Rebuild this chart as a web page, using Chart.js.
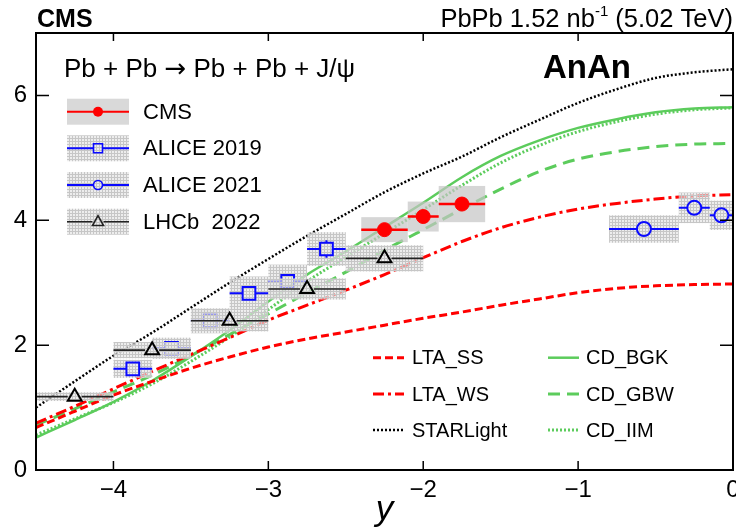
<!DOCTYPE html>
<html><head><meta charset="utf-8">
<script src="https://cdn.jsdelivr.net/npm/chart.js@4/dist/chart.umd.min.js"></script>
<style>html,body{margin:0;padding:0;background:#fff;}#wrap{width:736px;height:529px;}</style>
</head><body><div id="wrap"><canvas id="c" width="736" height="529" style="width:736px;height:529px"></canvas></div>
<script>
const FONT = '"Liberation Sans", Arial, Helvetica, sans-serif';

// ---- axis ticks ----
const xTicks = [-4, -3, -2, -1, 0];
const yTicks = [0, 2, 4, 6];

// ---- theory curves (sampled in rapidity y) ----
const curveX    = [-4.5,-4.25,-4,-3.75,-3.5,-3.25,-3,-2.75,-2.5,-2.25,-2,-1.75,-1.5,-1.25,-1,-0.75,-0.5,-0.25,0];
const ltaSS     = [0.68,0.94,1.20,1.42,1.63,1.81,1.97,2.10,2.21,2.32,2.43,2.53,2.64,2.74,2.84,2.91,2.95,2.97,2.98];
const ltaWS     = [0.75,1.02,1.30,1.58,1.85,2.12,2.40,2.64,2.88,3.13,3.40,3.66,3.88,4.05,4.18,4.27,4.34,4.39,4.41];
const starlight = [1.00,1.42,1.83,2.20,2.60,3.00,3.38,3.75,4.10,4.45,4.75,5.02,5.33,5.61,5.88,6.10,6.28,6.37,6.42];
const cdBGK     = [0.52,0.80,1.09,1.43,1.82,2.24,2.70,3.13,3.50,3.89,4.28,4.69,5.03,5.28,5.48,5.62,5.73,5.79,5.81];
const cdGBW     = [0.72,0.98,1.25,1.52,1.83,2.17,2.50,2.84,3.17,3.52,3.85,4.18,4.50,4.78,4.98,5.10,5.18,5.22,5.23];
const cdIIM     = [0.56,0.82,1.08,1.38,1.74,2.13,2.57,3.02,3.41,3.79,4.17,4.56,4.92,5.20,5.42,5.58,5.70,5.77,5.80];

// ---- measurements ----
const cmsX    = [-2.25, -2.0, -1.75];
const cmsXlo  = [-2.4, -2.1, -1.9];
const cmsXhi  = [-2.1, -1.9, -1.6];
const cmsY    = [3.85, 4.06, 4.26];
const cmsStat = [0.08, 0.08, 0.09];
const cmsSys  = [0.20, 0.24, 0.29];

const a19X    = [-3.875, -3.625, -3.375, -3.125, -2.875, -2.625];
const a19Xlo  = [-4.0, -3.75, -3.5, -3.25, -3.0, -2.75];
const a19Xhi  = [-3.75, -3.5, -3.25, -3.0, -2.75, -2.5];
const a19Y    = [1.62, 1.95, 2.39, 2.83, 3.02, 3.54];
const a19Stat = [0.07, 0.07, 0.08, 0.08, 0.09, 0.14];
const a19Sys  = [0.145, 0.17, 0.20, 0.27, 0.27, 0.27];

const a21X    = [-0.575, -0.25, -0.075];
const a21Xlo  = [-0.8, -0.35, -0.15];
const a21Xhi  = [-0.35, -0.15, 0.0];
const a21Y    = [3.86, 4.20, 4.08];
const a21Stat = [0.09, 0.09, 0.09];
const a21Sys  = [0.22, 0.245, 0.235];

const lhcbX    = [-4.25, -3.75, -3.25, -2.75, -2.25];
const lhcbXlo  = [-4.5, -4.0, -3.5, -3.0, -2.5];
const lhcbXhi  = [-4.0, -3.5, -3.0, -2.5, -2.0];
const lhcbY    = [1.175, 1.92, 2.39, 2.90, 3.39];
const lhcbStat = [0.05, 0.05, 0.06, 0.06, 0.07];
const lhcbSys  = [0.07, 0.13, 0.17, 0.17, 0.21];

const dataLabels  = ['CMS', 'ALICE 2019', 'ALICE 2021', 'LHCb  2022'];
const curveLabels = ['LTA_SS', 'LTA_WS', 'STARLight', 'CD_BGK', 'CD_GBW', 'CD_IIM'];

// ---- styles ----
const RED = '#ff0000', BLUE = '#0a0aff', GREEN = 'rgb(92,204,92)', BLACK = '#000';
const curveStyles = [
  {c: RED,   w: 3,   dash: [8, 4]},
  {c: RED,   w: 3,   dash: [11, 4, 3, 4]},
  {c: BLACK, w: 2.5, dash: [2, 2]},
  {c: GREEN, w: 2.5, dash: []},
  {c: GREEN, w: 3,   dash: [12, 7]},
  {c: GREEN, w: 3,   dash: [2, 2]},
];
const curveData = [ltaSS, ltaWS, starlight, cdBGK, cdGBW, cdIIM];

function pts(xs, ys) { return xs.map((x, i) => ({x: x, y: ys[i]})); }

const canvas = document.getElementById('c');
const ctx0 = canvas.getContext('2d');

function makeHatch(ctx) {
  const c = document.createElement('canvas'); c.width = 3; c.height = 3;
  const g = c.getContext('2d');
  g.fillStyle = 'rgb(198,198,198)'; g.fillRect(0, 0, 3, 3);
  g.clearRect(1, 1, 2, 2);
  g.fillStyle = 'rgba(228,228,228,0.65)'; g.fillRect(1, 1, 2, 2);
  return ctx.createPattern(c, 'repeat');
}
const HATCH = makeHatch(ctx0);
const SOLIDBOX = 'rgba(196,196,196,0.7)';

const datasets = [];
curveData.forEach((arr, i) => {
  const s = curveStyles[i];
  datasets.push({
    label: curveLabels[i], data: pts(curveX, arr), showLine: true,
    borderColor: s.c, borderWidth: s.w, borderDash: s.dash, pointRadius: 0,
    cubicInterpolationMode: 'monotone', fill: false, order: 10, borderCapStyle: 'butt'
  });
});
datasets.push({label: dataLabels[1], data: pts(a19X, a19Y), pointStyle: 'rect', pointRadius: 9,
  borderColor: BLUE, backgroundColor: 'rgba(0,0,0,0)', borderWidth: 2, order: 4,
  err: {xlo: a19Xlo, xhi: a19Xhi, stat: a19Stat, sys: a19Sys, fill: 'hatch', color: BLUE, lw: 2, gx: 6.5, gy: 6.5}});
datasets.push({label: dataLabels[2], data: pts(a21X, a21Y), pointStyle: 'circle', pointRadius: 7,
  borderColor: BLUE, backgroundColor: 'rgba(0,0,0,0)', borderWidth: 2, order: 3,
  err: {xlo: a21Xlo, xhi: a21Xhi, stat: a21Stat, sys: a21Sys, fill: 'hatch', color: BLUE, lw: 2, gx: 7, gy: 7}});
datasets.push({label: dataLabels[3], data: pts(lhcbX, lhcbY), pointStyle: 'triangle', pointRadius: 8,
  borderColor: BLACK, backgroundColor: 'rgba(0,0,0,0)', borderWidth: 2, order: 2,
  err: {xlo: lhcbXlo, xhi: lhcbXhi, stat: lhcbStat, sys: lhcbSys, fill: 'hatch', color: '#222', lw: 1.6, gx: 7, gy: 8}});
datasets.push({label: dataLabels[0], data: pts(cmsX, cmsY), pointStyle: 'circle', pointRadius: 7,
  borderColor: RED, backgroundColor: RED, borderWidth: 1, order: 1,
  err: {xlo: cmsXlo, xhi: cmsXhi, stat: cmsStat, sys: cmsSys, fill: 'solid', color: RED, lw: 2.5, gx: 0, gy: 0}});

const errPlugin = {
  id: 'errs',
  beforeDatasetDraw(chart, args) {
    const ds = chart.data.datasets[args.index];
    if (!ds.err) return;
    const e = ds.err, xs = chart.scales.x, ys = chart.scales.y, ctx = chart.ctx, a = chart.chartArea;
    ctx.save();
    ctx.beginPath(); ctx.rect(a.left, a.top, a.right - a.left, a.bottom - a.top); ctx.clip();
    ds.data.forEach((p, i) => {
      const x1 = xs.getPixelForValue(e.xlo[i]), x2 = xs.getPixelForValue(e.xhi[i]);
      const y1 = ys.getPixelForValue(p.y + e.sys[i]), y2 = ys.getPixelForValue(p.y - e.sys[i]);
      ctx.fillStyle = e.fill === 'hatch' ? HATCH : SOLIDBOX;
      ctx.fillRect(x1, y1, x2 - x1, y2 - y1);
    });
    ctx.strokeStyle = e.color; ctx.lineWidth = e.lw; ctx.setLineDash([]);
    ds.data.forEach((p, i) => {
      const cx = xs.getPixelForValue(p.x), cy = ys.getPixelForValue(p.y);
      const x1 = xs.getPixelForValue(e.xlo[i]), x2 = xs.getPixelForValue(e.xhi[i]);
      ctx.beginPath();
      ctx.moveTo(x1, cy); ctx.lineTo(cx - e.gx, cy);
      ctx.moveTo(cx + e.gx, cy); ctx.lineTo(x2, cy);
      const sy1 = ys.getPixelForValue(p.y + e.stat[i]), sy2 = ys.getPixelForValue(p.y - e.stat[i]);
      if (cy - sy1 > e.gy) { ctx.moveTo(cx, sy1); ctx.lineTo(cx, cy - e.gy); ctx.moveTo(cx, cy + e.gy); ctx.lineTo(cx, sy2); }
      ctx.stroke();
    });
    ctx.restore();
  }
};

function drawMarker(ctx, kind, x, y, r, color) {
  ctx.save(); ctx.setLineDash([]); ctx.lineWidth = 1.6; ctx.strokeStyle = color; ctx.fillStyle = color;
  ctx.beginPath();
  if (kind === 'fcircle') { ctx.arc(x, y, r, 0, Math.PI * 2); ctx.fill(); }
  else if (kind === 'circle') { ctx.arc(x, y, r, 0, Math.PI * 2); ctx.stroke(); }
  else if (kind === 'rect') { ctx.rect(x - r, y - r, 2 * r, 2 * r); ctx.stroke(); }
  else if (kind === 'tri') { ctx.moveTo(x, y - r * 1.1); ctx.lineTo(x + r, y + r * 0.7); ctx.lineTo(x - r, y + r * 0.7); ctx.closePath(); ctx.stroke(); }
  ctx.restore();
}

const decoPlugin = {
  id: 'deco',
  afterDraw(chart) {
    const ctx = chart.ctx, a = chart.chartArea, xs = chart.scales.x, ys = chart.scales.y;
    ctx.save();
    // frame
    ctx.strokeStyle = '#000'; ctx.lineWidth = 2; ctx.setLineDash([]);
    ctx.strokeRect(a.left, a.top, a.right - a.left, a.bottom - a.top);
    // inward ticks
    ctx.beginPath();
    xTicks.forEach(v => { const px = xs.getPixelForValue(v);
      ctx.moveTo(px, a.bottom); ctx.lineTo(px, a.bottom - 9);
      ctx.moveTo(px, a.top); ctx.lineTo(px, a.top + 8); });
    yTicks.forEach(v => { const py = ys.getPixelForValue(v);
      ctx.moveTo(a.left, py); ctx.lineTo(a.left + 13, py);
      ctx.moveTo(a.right, py); ctx.lineTo(a.right - 13, py); });
    ctx.lineWidth = 1.5; ctx.stroke();

    // header texts
    ctx.fillStyle = '#000'; ctx.textBaseline = 'alphabetic'; ctx.textAlign = 'left';
    ctx.font = 'bold 25px ' + FONT; ctx.fillText('CMS', 37, 27);
    const p1 = 'PbPb 1.52 nb', sup = '-1', p2 = ' (5.02 TeV)';
    ctx.font = '25.5px ' + FONT; const w1 = ctx.measureText(p1).width, w3 = ctx.measureText(p2).width;
    ctx.font = '15px ' + FONT; const w2 = ctx.measureText(sup).width;
    const x0 = 733 - (w1 + w2 + w3);
    ctx.font = '25.5px ' + FONT; ctx.fillText(p1, x0, 27); ctx.fillText(p2, x0 + w1 + w2, 27);
    ctx.font = '15px ' + FONT; ctx.fillText(sup, x0 + w1, 16);

    // process title, arrow drawn in a font with a wide arrow glyph
    const t1 = 'Pb + Pb ', t2 = '\u2192', t3 = ' Pb + Pb + J/\u03C8';
    ctx.font = '26px ' + FONT; const tw1 = ctx.measureText(t1).width;
    ctx.fillText(t1, 64, 77);
    ctx.font = '26px "DejaVu Sans", sans-serif'; const tw2 = ctx.measureText(t2).width;
    ctx.fillText(t2, 64 + tw1, 77);
    ctx.font = '26px ' + FONT; ctx.fillText(t3, 64 + tw1 + tw2, 77);

    ctx.font = 'bold 33px ' + FONT; ctx.fillText('AnAn', 543, 78);

    // legend 1 (measurements)
    const l1y = [111.7, 148.3, 185, 221.7];
    const l1 = [
      {fill: 'solid', col: RED,  m: 'fcircle', r: 5},
      {fill: 'hatch', col: BLUE, m: 'rect',    r: 4.5},
      {fill: 'hatch', col: BLUE, m: 'circle',  r: 4.5},
      {fill: 'hatch', col: '#222', m: 'tri',   r: 5.5},
    ];
    l1.forEach((s, i) => {
      const y = l1y[i];
      ctx.fillStyle = s.fill === 'hatch' ? HATCH : 'rgb(217,217,217)';
      ctx.fillRect(67, y - 13, 62, 26);
      ctx.strokeStyle = s.col; ctx.lineWidth = i === 3 ? 1.5 : 2; ctx.setLineDash([]);
      ctx.beginPath(); ctx.moveTo(67, y); ctx.lineTo(98 - (s.m === 'fcircle' ? 0 : s.r), y);
      ctx.moveTo(98 + (s.m === 'fcircle' ? 0 : s.r), y); ctx.lineTo(129, y); ctx.stroke();
      drawMarker(ctx, s.m, 98, y, s.r, s.col);
      ctx.fillStyle = '#000'; ctx.font = '22px ' + FONT; ctx.textBaseline = 'middle';
      ctx.fillText(dataLabels[i], 143, y + 1);
    });

    // legend 2 (models)
    const l2y = [357.7, 394, 430];
    curveLabels.forEach((lab, i) => {
      const col = Math.floor(i / 3), row = i % 3, s = curveStyles[i];
      const lx = col === 0 ? 373 : 548, tx = col === 0 ? 412 : 586, y = l2y[row];
      ctx.strokeStyle = s.c; ctx.lineWidth = s.w; ctx.setLineDash(s.dash);
      ctx.beginPath(); ctx.moveTo(lx, y); ctx.lineTo(lx + 31, y); ctx.stroke();
      ctx.setLineDash([]);
      ctx.fillStyle = '#000'; ctx.font = '20px ' + FONT; ctx.textBaseline = 'middle';
      ctx.fillText(lab, tx, y + 1);
    });
    ctx.restore();
  }
};

const fmt = v => (v < 0 ? '\u2212' + Math.abs(v) : String(v));

new Chart(canvas, {
  type: 'scatter',
  data: {datasets: datasets},
  options: {
    responsive: false, animation: false, devicePixelRatio: 1,
    layout: {autoPadding: false, padding: {left: 0, right: 3, top: 33, bottom: 0}},
    plugins: {legend: {display: false}, tooltip: {enabled: false}},
    scales: {
      x: {
        type: 'linear', min: -4.5, max: 0,
        afterBuildTicks: s => { s.ticks = xTicks.map(v => ({value: v})); },
        afterFit: s => { s.height = 59; s.paddingLeft = 0; s.paddingRight = 0; },
        grid: {display: false, drawTicks: false}, border: {display: false},
        ticks: {font: {family: FONT, size: 24}, color: '#000', padding: 6, maxRotation: 0, autoSkip: false, callback: fmt},
        title: {display: true, text: 'y', color: '#000', font: {family: FONT, size: 35, style: 'italic'}, padding: {top: 0, bottom: -2}}
      },
      y: {
        type: 'linear', min: 0, max: 7,
        afterBuildTicks: s => { s.ticks = yTicks.map(v => ({value: v})); },
        afterFit: s => { s.width = 36; },
        grid: {display: false, drawTicks: false}, border: {display: false},
        ticks: {font: {family: FONT, size: 24}, color: '#000', padding: 9, callback: fmt}
      }
    }
  },
  plugins: [errPlugin, decoPlugin]
});
</script>
</body></html>
